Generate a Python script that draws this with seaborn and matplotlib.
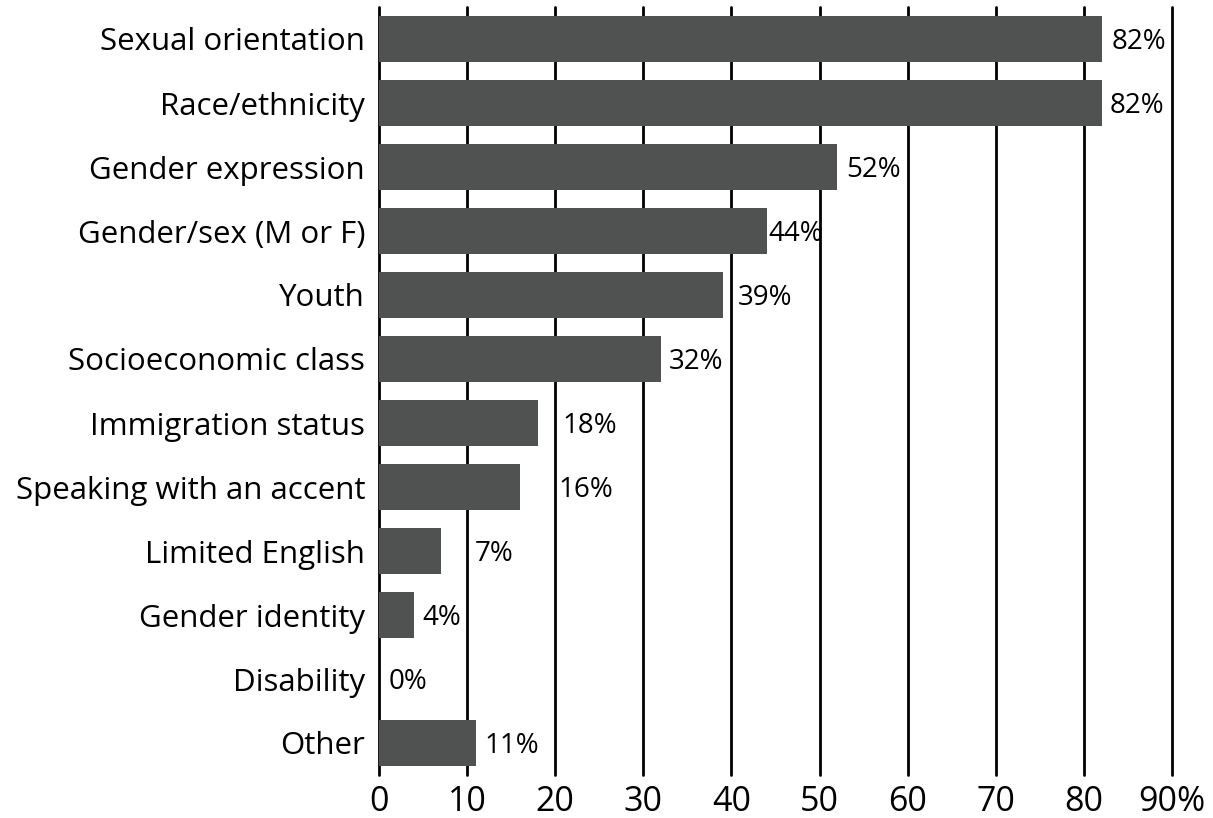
import matplotlib
matplotlib.use("Agg")
import matplotlib.pyplot as plt
import pandas as pd
import seaborn as sns

categories = [
    "Sexual orientation",
    "Race/ethnicity",
    "Gender expression",
    "Gender/sex (M or F)",
    "Youth",
    "Socioeconomic class",
    "Immigration status",
    "Speaking with an accent",
    "Limited English",
    "Gender identity",
    "Disability",
    "Other",
]
percent = [82, 82, 52, 44, 39, 32, 18, 16, 7, 4, 0, 11]
x_ticks = [0, 10, 20, 30, 40, 50, 60, 70, 80, 90]
x_tick_labels = ["0", "10", "20", "30", "40", "50", "60", "70", "80", "90%"]

# label offsets from bar end, in pixels (the original places them by hand)
label_pad_px = [10, 8, 9, 2, 15, 8, 25, 38, 34, 8, 10, 9]

df = pd.DataFrame({"category": categories, "percent": percent})

sns.set_theme(style="white")
plt.rcParams["font.family"] = ["Open Sans", "DejaVu Sans"]
plt.rcParams["text.color"] = "black"
plt.rcParams["xtick.color"] = "black"
plt.rcParams["ytick.color"] = "black"

fig = plt.figure(figsize=(12.13, 8.18), dpi=100)
ax = fig.add_axes([379 / 1213, 1 - 775 / 818, (1172 - 379) / 1213, (775 - 7) / 818])

sns.barplot(
    data=df,
    y="category",
    x="percent",
    orient="h",
    color="#4f5250",
    saturation=1,
    width=0.72,
    linewidth=0,
    ax=ax,
    zorder=3,
)

ax.set_xlim(0, 90)
ax.set_ylim(len(categories) - 0.5, -0.5)
ax.set_xticks(x_ticks)
ax.set_xticklabels(x_tick_labels, fontsize=24.5)
ax.tick_params(axis="y", labelsize=22.5, pad=10, length=0)
ax.tick_params(axis="x", pad=7, length=0)
ax.set_xlabel("")
ax.set_ylabel("")

for x in x_ticks:
    ax.axvline(x, color="black", lw=2, zorder=1, clip_on=False)

for s in ax.spines.values():
    s.set_visible(False)

for i, (v, pad) in enumerate(zip(percent, label_pad_px)):
    ax.annotate(
        f"{v}%",
        xy=(v, i),
        xytext=(pad * 0.72, -2.5),
        textcoords="offset points",
        ha="left",
        va="center",
        fontsize=20,
        color="black",
        zorder=4,
    )

fig.savefig("out.png", dpi=100)
